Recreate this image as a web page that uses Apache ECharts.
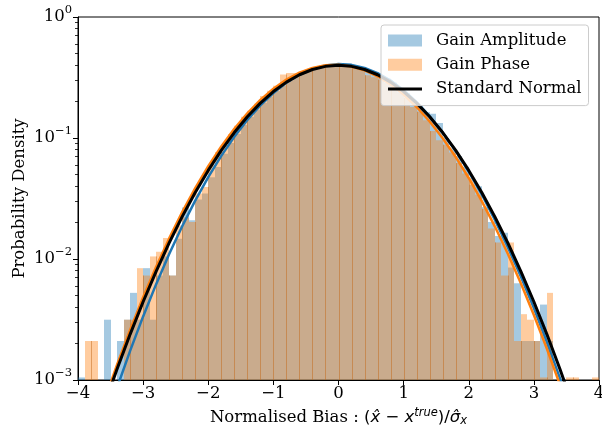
<!DOCTYPE html>
<html><head><meta charset="utf-8">
<script src="https://cdn.jsdelivr.net/npm/echarts@6/dist/echarts.min.js"></script>
<style>html,body{margin:0;padding:0;background:#fff}#c{width:602px;height:426px}</style>
</head><body><div id="c"></div>
<script>
// ---- data ----
const binStart = -4, binWidth = 0.1;
const ampHist = [0.00105,null,null,null,0.00315,null,0.0021,0.00315,0.00525,0.00315,
  0.0084,0.00315,0.0073,0.0105,0.0073,0.0147,0.0266,0.0209,0.031,0.0347,
  0.0473,0.0576,0.074,0.091,0.108,0.128,0.150,0.171,0.196,0.220,
  0.245,0.270,0.296,0.320,0.340,0.360,0.376,0.390,0.400,0.405,
  0.408,0.404,0.398,0.386,0.360,0.345,0.330,0.310,0.287,0.262,
  0.236,0.205,0.184,0.163,0.159,0.133,0.100,0.082,0.071,0.058,
  0.041,0.040,0.0269,0.0202,0.0155,0.0165,0.0085,0.0063,0.0021,0.0021,
  0.0021,0.0042,0.0021,null,null,null,null,null,null,null];
const phaseHist = [null,0.0021,0.0021,null,null,null,null,0.00315,0.00315,0.0084,
  0.0073,0.0105,0.0115,0.0149,0.0073,0.0189,0.022,0.0202,0.0347,0.0394,
  0.060,0.0766,0.087,0.108,0.126,0.150,0.168,0.192,0.222,0.246,
  0.270,0.335,0.344,0.344,0.352,0.372,0.383,0.395,0.398,0.402,
  0.398,0.392,0.381,0.368,0.330,0.318,0.305,0.285,0.262,0.238,
  0.214,0.180,0.165,0.140,0.114,0.096,0.088,0.076,0.062,0.051,
  0.047,0.034,0.026,0.0179,0.0137,0.0073,0.0137,0.0021,0.0035,0.00315,
  0.0021,0.00105,0.00525,null,null,0.00105,0.00105,null,null,0.00105];
const curveX = [-4,-3.8,-3.6,-3.4,-3.2,-3,-2.8,-2.6,-2.4,-2.2,-2,-1.8,-1.6,-1.4,-1.2,-1,-0.8,-0.6,-0.4,-0.2,
  0,0.2,0.4,0.6,0.8,1,1.2,1.4,1.6,1.8,2,2.2,2.4,2.6,2.8,3,3.2,3.4,3.6,3.8,4];
const ampFit = [0.0000829,0.0001889,0.000413,0.000866,0.00174,0.003353,0.006199,0.010985,0.018661,0.030405,
  0.047499,0.071158,0.10222,0.14080,0.18595,0.23550,0.28596,0.33298,0.37178,0.39803,
  0.40862,0.40223,0.37967,0.34363,0.29824,0.24817,0.19804,0.15154,0.11118,0.07820,
  0.052753,0.034124,0.021166,0.012588,0.007178,0.003925,0.002058,0.001035,0.000499,0.000231,0.000102];
const phaseFit = [0.0001436,0.0003147,0.0006622,0.0013375,0.0025934,0.004827,0.008627,0.014799,0.024375,0.038539,
  0.058497,0.08524,0.11924,0.16013,0.20645,0.25552,0.3036,0.34631,0.37923,0.39867,
  0.40235,0.38982,0.36258,0.32376,0.27753,0.22839,0.18044,0.13685,0.09965,0.06965,
  0.046733,0.030104,0.018619,0.011055,0.0063,0.003447,0.001811,0.000913,0.000442,0.000205,0.0000917];
const stdNormal = [0.000134,0.000292,0.000612,0.001232,0.002384,0.004432,0.007915,0.01358,0.02239,0.03547,
  0.05399,0.07895,0.11092,0.14973,0.19419,0.24197,0.28969,0.33322,0.36827,0.39104,
  0.39894,0.39104,0.36827,0.33322,0.28969,0.24197,0.19419,0.14973,0.11092,0.07895,
  0.05399,0.03547,0.02239,0.01358,0.007915,0.004432,0.002384,0.001232,0.000612,0.000292,0.000134];
const xTicks = [-4,-3,-2,-1,0,1,2,3,4];
const yTicks = [0.001,0.01,0.1,1];
const yMinorTicks = [0.002,0.003,0.004,0.005,0.006,0.007,0.008,0.009,
  0.02,0.03,0.04,0.05,0.06,0.07,0.08,0.09,0.2,0.3,0.4,0.5,0.6,0.7,0.8,0.9];

// ---- chart ----
const yMin = 0.001, yMax = 1;
const SERIF = 'DejaVu Serif';
const MATH = 'DejaVu Sans';
const FS = 16.5, FSS = 11.5;

function histSeries(name, values, color, seamColor) {
  const data = [];
  values.forEach((v, i) => {
    if (v != null) data.push([binStart + i * binWidth, binStart + (i + 1) * binWidth, v, i]);
  });
  return {
    type: 'custom', name, data, clip: true,
    encode: { x: [0, 1], y: 2 },
    itemStyle: { color },
    renderItem(params, api) {
      const x0 = api.value(0), x1 = api.value(1), v = api.value(2), i = api.value(3);
      const pTop = api.coord([x0, v]);
      const pBot = api.coord([x1, yMin]);
      const xl = Math.round(pTop[0]), xr = Math.round(pBot[0]);
      const children = [{
        type: 'rect',
        shape: { x: xl, y: pTop[1], width: xr - xl, height: pBot[1] - pTop[1] },
        style: { fill: color }
      }];
      if (seamColor && i % 2 === 0 && i > 0 && values[i - 1] != null) {
        const h = Math.min(v, values[i - 1]);
        const ps = api.coord([x0, h]);
        children.push({
          type: 'line',
          shape: { x1: xl + 0.5, y1: ps[1], x2: xl + 0.5, y2: pBot[1] },
          style: { stroke: seamColor, lineWidth: 1 }
        });
      }
      return { type: 'group', children };
    }
  };
}
function lineSeries(name, ys, color, width) {
  return {
    type: 'line', name, data: curveX.map((x, i) => [x, ys[i]]),
    showSymbol: false, symbol: 'none', clip: true, smooth: false,
    lineStyle: { color, width }, itemStyle: { color },
    emphasis: { disabled: true }, silent: true
  };
}
function supText(v) {
  const e = Math.round(Math.log10(v));
  return '{b|10}{s|' + (e < 0 ? '\u2212' + (-e) : e) + '}';
}

const chart = echarts.init(document.getElementById('c'), null, { renderer: 'canvas' });
chart.setOption({
  animation: false,
  backgroundColor: '#fff',
  grid: { left: 78, right: 3, top: 17, bottom: 46, outerBoundsMode: 'none', containLabel: false,
    show: true, borderColor: '#000', borderWidth: 1, backgroundColor: 'transparent' },
  legend: {
    orient: 'vertical', left: 381, top: 25,
    padding: [7, 7, 8, 7],
    itemWidth: 34, itemHeight: 12, itemGap: 7.3,
    backgroundColor: 'rgba(255,255,255,0.8)', borderColor: '#cccccc', borderWidth: 1, borderRadius: 3,
    textStyle: { fontFamily: SERIF, fontSize: FS, color: '#000', padding: [0, 0, 0, 9] },
    data: [
      { name: 'Gain Amplitude', icon: 'rect' },
      { name: 'Gain Phase', icon: 'rect' },
      { name: 'Standard Normal', icon: 'path://M0,0L34,0L34,3L0,3Z', itemStyle: { color: '#000' } }
    ]
  },
  xAxis: {
    type: 'value', min: -4, max: 4, interval: 1,
    axisLine: { show: true, onZero: false, lineStyle: { color: '#000', width: 1 } },
    axisTick: { show: true, inside: false, length: 5, lineStyle: { color: '#000', width: 1 } },
    splitLine: { show: false },
    axisLabel: {
      margin: 5, color: '#000', fontFamily: SERIF, fontSize: FS,
      customValues: xTicks,
      formatter: v => (v < 0 ? '\u2212' + Math.abs(v) : String(v))
    },
    name: '{n|Normalised Bias : }{m|(}{i|x\u0302}{m| \u2212 }{i|x}{sup|true}{m|)/}{i|\u03c3\u0302}{sub|x}',
    nameLocation: 'middle', nameGap: 24,
    nameTextStyle: {
      rich: {
        n: { fontFamily: SERIF, fontSize: FS, color: '#000' },
        m: { fontFamily: MATH, fontSize: FS, color: '#000' },
        i: { fontFamily: MATH, fontStyle: 'italic', fontSize: FS, color: '#000' },
        sup: { fontFamily: MATH, fontStyle: 'italic', fontSize: FSS, color: '#000', padding: [0, 0, 10, 0] },
        sub: { fontFamily: MATH, fontStyle: 'italic', fontSize: FSS, color: '#000', padding: [6, 0, 0, 0] }
      }
    }
  },
  yAxis: [{
    type: 'log', logBase: 10, min: yMin, max: yMax,
    axisLine: { show: true, onZero: false, lineStyle: { color: '#000', width: 1 } },
    axisTick: { show: true, inside: false, length: 5, lineStyle: { color: '#000', width: 1 }, customValues: yTicks },
    splitLine: { show: false }, minorTick: { show: false },
    axisLabel: {
      margin: 6, color: '#000', customValues: yTicks,
      formatter: v => supText(v),
      rich: {
        b: { fontFamily: SERIF, fontSize: FS, color: '#000' },
        s: { fontFamily: SERIF, fontSize: FSS, color: '#000', padding: [0, 0, 13, 0] }
      }
    },
    name: 'Probability Density', nameLocation: 'middle', nameGap: 50, nameMoveOverlap: false,
    nameTextStyle: { fontFamily: SERIF, fontSize: FS, color: '#000' }
  }, {
    type: 'log', logBase: 10, min: yMin, max: yMax, position: 'left',
    axisLine: { show: false, onZero: false },
    axisTick: { show: true, inside: false, length: 3, lineStyle: { color: '#000', width: 0.8 }, customValues: yMinorTicks },
    axisLabel: { show: false }, splitLine: { show: false }
  }],
  series: [
    histSeries('Gain Amplitude', ampHist, 'rgba(31,119,180,0.4)', null),
    histSeries('Gain Phase', phaseHist, 'rgba(255,127,14,0.4)', 'rgba(196,106,26,0.5)'),
    lineSeries('Amplitude fit', ampFit, '#1f77b4', 2.5),
    lineSeries('Phase fit', phaseFit, '#ff7f0e', 2.5),
    lineSeries('Standard Normal', stdNormal, '#000000', 3)
  ]
});
</script>
</body></html>
